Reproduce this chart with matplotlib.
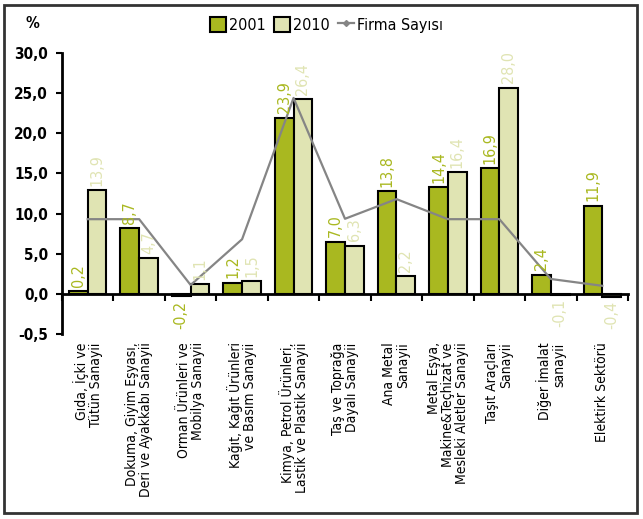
import matplotlib
matplotlib.use("Agg")
import matplotlib.pyplot as plt
from matplotlib.lines import Line2D
from matplotlib.patches import Patch, Rectangle
import numpy as np

plt.rcParams['font.family'] = ['DejaVu Sans']
plt.rcParams['font.stretch'] = 'condensed'

categories = [
    "Gıda, İçki ve\nTütün Sanayii",
    "Dokuma, Giyim Eşyası,\nDeri ve Ayakkabı Sanayii",
    "Orman Ürünleri ve\nMobilya Sanayii",
    "Kağıt, Kağıt Ürünleri\nve Basım Sanayii",
    "Kimya, Petrol Ürünleri,\nLastik ve Plastik Sanayii",
    "Taş ve Toprağa\nDayalı Sanayii",
    "Ana Metal\nSanayii",
    "Metal Eşya,\nMakine&Teçhizat ve\nMesleki Aletler Sanayii",
    "Taşıt Araçları\nSanayii",
    "Diğer İmalat\nsanayii",
    "Elektirk Sektörü",
]
# bar heights as drawn in the picture
bars_2001 = [0.3, 8.2, -0.3, 1.4, 21.95, 6.5, 12.8, 13.3, 15.65, 2.4, 11.0]
bars_2010 = [12.95, 4.45, 1.25, 1.6, 24.25, 6.0, 2.25, 15.15, 25.7, -0.1, -0.4]
# value labels as printed
labels_2001 = ["0,2", "8,7", "-0,2", "1,2", "23,9", "7,0", "13,8", "14,4", "16,9", "2,4", "11,9"]
labels_2010 = ["13,9", "4,7", "1,1", "1,5", "26,4", "6,3", "2,2", "16,4", "28,0", "-0,1", "-0,4"]
firma = [9.3, 9.3, 1.1, 6.8, 24.4, 9.35, 11.8, 9.3, 9.3, 1.85, 1.0]
yticks = [-5, 0, 5, 10, 15, 20, 25, 30]
ytick_labels = ["-0,5", "0,0", "5,0", "10,0", "15,0", "20,0", "25,0", "30,0"]

c2001 = "#A9B820"
c2010 = "#E0E4B3"
cline = "#858585"

fig = plt.figure(figsize=(6.43, 5.19), dpi=100)
ax = fig.add_axes([0.0964, 0.3565, 0.8803, 0.5414])

x = np.arange(len(categories))
w = 0.365
ax.bar(x - w / 2, bars_2001, w, color=c2001, edgecolor="black", linewidth=1.5, zorder=2)
ax.bar(x + w / 2, bars_2010, w, color=c2010, edgecolor="black", linewidth=1.5, zorder=2)
ax.plot(x, firma, color=cline, linewidth=1.6, zorder=3)

for xi, v, s in zip(x - w / 2, bars_2001, labels_2001):
    ax.annotate(s, (xi, v), xytext=(0, 3 if v >= 0 else -3), textcoords="offset points",
                rotation=90, ha="center", va="bottom" if v >= 0 else "top",
                color=c2001, fontsize=11.5, zorder=4)
for xi, v, s in zip(x + w / 2, bars_2010, labels_2010):
    ax.annotate(s, (xi, v), xytext=(0, 3 if v >= 0 else -3), textcoords="offset points",
                rotation=90, ha="center", va="bottom" if v >= 0 else "top",
                color=c2010, fontsize=11.5, zorder=4)

ax.set_xlim(-0.5, len(categories) - 0.5)
ax.set_ylim(-5, 30)
ax.set_yticks(yticks)
ax.set_yticklabels(ytick_labels, fontsize=11, fontweight="bold")
ax.tick_params(axis="y", direction="out", length=4, width=1.5, pad=6)

ax.spines["top"].set_visible(False)
ax.spines["right"].set_visible(False)
ax.spines["left"].set_linewidth(2)
ax.spines["bottom"].set_position(("data", 0))
ax.spines["bottom"].set_linewidth(2)
ax.set_xticks(np.arange(len(categories) + 1) - 0.5)
ax.set_xticklabels([])
ax.tick_params(axis="x", direction="out", length=5, width=1.5)

for xi, lab in zip(x, categories):
    ax.annotate(lab, xy=(xi, 0), xycoords=("data", "axes fraction"),
                xytext=(0, -6), textcoords="offset points",
                rotation=90, ha="center", va="top", fontsize=10,
                multialignment="right", linespacing=1.0)

fig.text(0.05, 0.955, "%", fontsize=11, fontweight="bold", ha="center", va="center")

handles = [Patch(facecolor=c2001, edgecolor="black", linewidth=1.5, label="2001"),
           Patch(facecolor=c2010, edgecolor="black", linewidth=1.5, label="2010"),
           Line2D([0], [0], color=cline, linewidth=1.6, marker="D", markersize=3, label="Firma Sayısı")]
fig.legend(handles=handles, loc="center", bbox_to_anchor=(0.508, 0.952), ncol=3,
           frameon=False, fontsize=11.5, handlelength=1.0, handleheight=1.1,
           handletextpad=0.2, columnspacing=0.5)

fig.add_artist(Rectangle((0.006, 0.012), 0.985, 0.978, transform=fig.transFigure,
                         fill=False, edgecolor="#333333", linewidth=2))

fig.savefig("out.png", dpi=100)
